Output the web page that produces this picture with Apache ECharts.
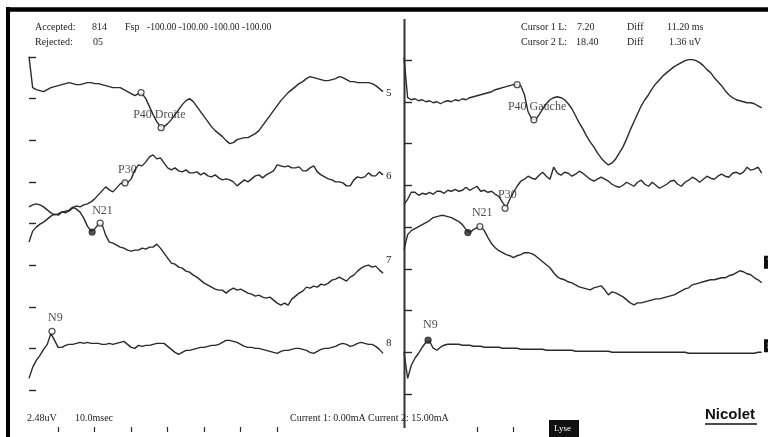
<!DOCTYPE html>
<html>
<head>
<meta charset="utf-8">
<script src="https://cdn.jsdelivr.net/npm/echarts@6/dist/echarts.min.js"></script>
<style>
  html, body { margin: 0; padding: 0; background: #fff; }
  #chart { width: 768px; height: 437px; }
</style>
</head>
<body>
<div id="chart"></div>
<script>
// one sample per ms, amplitudes in counts (41.6 counts = 1 div = 2.48 uV)
const STEP_MS = 1;
const COUNTS_PER_DIV = 41.6;

// left page (Droite), channels 5..8
const droite5 = [42,11,9,8,7,9,11,12,13,14, 15,16,15,14,14,15,16,16,15,15,
  14,13,12,11,11,11,9,7,5,3, 5,5,0,-8,-16,-23,-28,-28,-25,-21,
  -16,-11,-6,-2,0,-3,-8,-13,-18,-23, -28,-32,-35,-38,-42,-45,-44,-41,-40,-39,
  -39,-37,-35,-32,-27,-22,-17,-12,-7,-2, 2,6,9,12,15,17,20,22,21,20,
  19,18,18,19,20,22,21,19,17,17, 16,16,16,16,15,13,10,7];
const droite6 = [-25,-23,-22,-23,-25,-28,-31,-33,-32,-30, -31,-29,-26,-24,-25,-23,-22,-20,-17,-13,
  -9,-5,-8,-10,-6,-2,0,-1,3,12, 17,16,20,25,27,23,24,19,14,12,
  14,11,10,12,9,9,10,7,9,6, 5,7,4,2,3,2,0,-4,-1,2,
  0,3,6,7,4,7,9,11,17,16, 15,16,14,14,15,11,11,14,16,10,
  7,5,3,2,0,0,-1,-4,-4,2, 5,4,5,9,6,6,10,7];
const droite7 = [23,34,38,41,43,46,49,51,50,53, 54,55,58,56,53,47,39,34,36,41,
  41,30,23,22,20,18,17,15,14,15, 15,17,16,18,18,21,17,12,7,2,
  1,-2,-3,-6,-7,-10,-12,-15,-18,-20, -22,-24,-25,-25,-28,-25,-23,-25,-24,-26,
  -28,-29,-31,-30,-32,-33,-32,-35,-38,-40, -38,-40,-34,-31,-28,-26,-22,-23,-21,-22,
  -19,-20,-18,-15,-14,-12,-14,-16,-12,-10, -6,-3,-1,0,-2,-1,-5,-8];
const droite8 = [-30,-19,-12,-7,-1,4,15,8,1,1, 3,4,4,5,6,5,6,5,5,5,
  4,4,5,4,5,6,7,4,1,0, 3,2,3,3,4,5,5,5,2,-1,
  -4,-6,-4,-2,-2,-1,0,1,1,2, 3,3,4,6,8,8,7,6,4,2,
  1,1,0,0,-1,-2,-3,-4,-5,-3, -2,-2,-1,0,0,-1,-2,-4,-5,-3,
  -1,0,0,1,2,4,5,4,2,3, 5,6,5,4,4,2,-1,-5];

// right page (Gauche), channels 5..8
const gauche5 = [44,4,2,3,1,2,0,1,-1,0, -2,0,1,0,2,1,3,2,4,5,
  6,7,8,9,10,12,13,14,15,16, 17,17,16,7,-10,-17,-18,-13,-7,-2,
  2,4,5,4,2,-2,-7,-14,-21,-27, -34,-40,-45,-51,-56,-60,-63,-61,-57,-51,
  -45,-37,-28,-20,-12,-4,2,7,13,18, 22,26,29,32,35,37,39,41,42,42,
  41,39,36,32,29,24,20,16,11,7, 4,2,1,0,-1,-1,-2,-4,-6];
const gauche6 = [-19,-14,-7,-7,-10,-8,-9,-7,-9,-6, -6,-8,-5,-6,-4,-6,-5,-2,-5,-3,
  -1,-6,-5,-7,-6,-9,-11,-17,-22,-14, -7,-1,4,6,9,7,6,10,13,9,
  6,18,12,10,13,12,9,11,14,12, 9,6,4,6,8,6,4,1,-1,-2,
  0,3,1,-1,3,5,1,-1,3,0, -3,-1,1,4,5,1,-1,3,5,8,
  6,3,6,9,7,6,9,11,9,8, 12,13,11,13,18,15,16,18,12];
const gauche7 = [19,34,38,40,42,44,46,48,51,52, 53,53,52,51,49,47,44,39,36,39,
  41,42,38,31,25,21,18,16,14,13, 11,13,14,16,16,15,13,10,7,4,
  1,-4,-8,-10,-11,-13,-14,-16,-18,-19, -20,-21,-19,-18,-17,-21,-26,-23,-24,-26,
  -28,-31,-34,-36,-34,-34,-33,-32,-31,-30, -30,-29,-28,-27,-26,-24,-22,-20,-19,-16,
  -15,-14,-13,-12,-11,-11,-10,-9,-9,-7, -6,-4,-2,-3,-5,-6,-9,-11,-14];
const gauche8 = [0,-26,-13,-6,-1,5,10,11,4,2, 5,7,8,8,8,8,7,7,7,6,
  6,6,5,5,5,5,5,4,4,4, 4,4,3,3,3,3,3,3,3,2,
  2,2,2,2,2,2,2,1,1,1, 1,1,1,1,1,1,1,0,0,0,
  0,0,0,0,0,0,0,0,0,0, 0,0,0,0,0,0,0,0,-1,-1,
  -1,-1,-1,-1,-1,-1,-1,-1,-1,-1, -1,-1,-1,-1,-1,-1,-1,0,0];

const channelNames = ['5', '6', '7', '8'];

// cursor marks [ms, counts] and peak names
const peakMarks = {
  droite5: [[30.7, 6], [36.2, -29]],
  droite6: [[26.3, -1]],
  droite7: [[17.3, 33], [19.5, 42]],
  droite8: [[6.3, 17]],
  gauche5: [[31.0, 17], [35.6, -18]],
  gauche6: [[27.7, -23]],
  gauche7: [[17.5, 36], [20.8, 42]],
  gauche8: [[6.6, 12]]
};
const peakNames = {
  droite5: 'P40 Droite', droite6: 'P30', droite7: 'N21', droite8: 'N9',
  gauche5: 'P40 Gauche', gauche6: 'P30', gauche7: 'N21', gauche8: 'N9'
};

// time ruler ticks along the bottom (ms)
const rulerTicksDroite = [8, 18, 28, 38, 48, 58, 68];
const rulerTicksGauche = [20, 30];

// ---- layout ----
const INK = '#2b2b2b';
const SERIF = '"Liberation Serif", "DejaVu Serif", serif';
const panels = [
  { key: 'droite', left: 29, top: 57, height: 333, tickLen: 7,
    traces: [droite5, droite6, droite7, droite8], ruler: rulerTicksDroite },
  { key: 'gauche', left: 404, top: 60, height: 334, tickLen: 8,
    traces: [gauche5, gauche6, gauche7, gauche8], ruler: rulerTicksGauche }
];
const channelDiv = [7, 5, 3, 1];
const labelOffset = {
  droite5: [-28, -13], droite6: [-7, -13], droite7: [-8, -12], droite8: [-4, -14],
  gauche5: [-26, -13], gauche6: [-7, -13], gauche7: [-8, -14], gauche8: [-5, -15]
};
const filledMarks = { droite7: [true, false], gauche7: [true, false], gauche8: [true] };

const grids = [], xAxes = [], yAxes = [], series = [];

panels.forEach((p, pi) => {
  grids.push({ left: p.left, top: p.top, width: 365, height: p.height, outerBoundsMode: 'none', containLabel: false });
  xAxes.push({
    gridIndex: pi, type: 'value', min: 0, max: 100, position: 'bottom',
    offset: 427 - (p.top + p.height),
    axisLine: { show: false, onZero: false },
    axisTick: { show: true, customValues: p.ruler, length: 5, lineStyle: { color: INK, width: 1.2 } },
    axisLabel: { show: false }, splitLine: { show: false }
  });
  // division ticks
  yAxes.push({
    gridIndex: pi, type: 'value', min: 0, max: 8, interval: 1, position: 'left',
    axisLine: { show: false },
    axisTick: { show: true, inside: true, length: p.tickLen, lineStyle: { color: INK, width: 1.4 } },
    axisLabel: { show: false }, splitLine: { show: false }
  });
  // channel numbers at the right end
  yAxes.push({
    gridIndex: pi, type: 'value', min: 0, max: 8, interval: 1, position: 'right',
    axisLine: { show: false }, axisTick: { show: false }, splitLine: { show: false },
    axisLabel: pi === 0 ? {
      show: true, margin: -8, align: 'left', verticalAlign: 'bottom', color: '#222',
      fontFamily: SERIF, fontSize: 11,
      formatter: v => { const i = channelDiv.indexOf(v); return i >= 0 ? channelNames[i] : ''; }
    } : {
      show: true, margin: -5, align: 'left', verticalAlign: 'bottom',
      fontFamily: SERIF, fontSize: 11,
      formatter: v => (v === 3 ? '{b|7}' : v === 1 ? '{b|8}' : ''),
      rich: { b: { color: '#fff', backgroundColor: '#111', padding: [1, 3, 1, 3], fontFamily: SERIF, fontSize: 11 } }
    }
  });
  p.traces.forEach((trace, ci) => {
    const yi = yAxes.length;
    yAxes.push({
      gridIndex: pi, type: 'value', show: false,
      min: -channelDiv[ci] * COUNTS_PER_DIV, max: (8 - channelDiv[ci]) * COUNTS_PER_DIV
    });
    const key = p.key + channelNames[ci];
    series.push({
      type: 'line', xAxisIndex: pi, yAxisIndex: yi, clip: false, silent: true,
      showSymbol: false, smooth: false,
      lineStyle: { color: INK, width: 1.4 },
      data: trace.map((v, i) => [i * STEP_MS, v])
    });
    const marks = peakMarks[key];
    const fills = filledMarks[key] || [];
    const off = labelOffset[key];
    series.push({
      type: 'scatter', xAxisIndex: pi, yAxisIndex: yi, clip: false, silent: true, z: 3,
      symbol: 'circle', symbolSize: 6,
      itemStyle: { color: '#fff', borderColor: INK, borderWidth: 1.3 },
      data: marks.map((m, mi) => {
        const item = { value: m };
        if (fills[mi]) item.itemStyle = { color: INK };
        if (mi === marks.length - 1) {
          item.label = {
            show: true, formatter: peakNames[key], position: 'inside',
            align: 'left', verticalAlign: 'middle', offset: off,
            color: '#222', fontFamily: SERIF, fontSize: 12
          };
        }
        return item;
      })
    });
  });
});

function txt(text, x, y, size, fill) {
  return {
    type: 'text', x: x, y: y, silent: true,
    style: { text: text, fill: fill || '#222', font: (size || 10) + 'px ' + SERIF, verticalAlign: 'middle', align: 'left' }
  };
}

const graphic = [
  // page frame and divider
  { type: 'line', silent: true, shape: { x1: 8, y1: 7, x2: 8, y2: 437 }, style: { stroke: '#000', lineWidth: 4 } },
  { type: 'line', silent: true, shape: { x1: 6, y1: 9.5, x2: 768, y2: 9.5 }, style: { stroke: '#000', lineWidth: 4.5 } },
  { type: 'line', silent: true, shape: { x1: 404.5, y1: 19, x2: 404.5, y2: 428 }, style: { stroke: '#333', lineWidth: 2 } },
  // header
  txt('Accepted:', 35, 27), txt('814', 92, 27), txt('Fsp', 125, 27),
  txt('-100.00 -100.00 -100.00 -100.00', 147, 27, 9.5),
  txt('Rejected:', 35, 42), txt('05', 93, 42),
  txt('Cursor 1 L:', 521, 27), txt('7.20', 577, 27), txt('Diff', 627, 27), txt('11.20 ms', 667, 27),
  txt('Cursor 2 L:', 521, 42), txt('18.40', 576, 42), txt('Diff', 627, 42), txt('1.36 uV', 669, 42),
  // footer
  txt('2.48uV', 27, 418), txt('10.0msec', 75, 418),
  txt('Current 1: 0.00mA', 290, 418), txt('Current 2: 15.00mA', 368, 418),
  { type: 'rect', silent: true, shape: { x: 549, y: 420, width: 30, height: 17 }, style: { fill: '#111' } },
  txt('Lyse', 554, 429, 9, '#fff'),
  { type: 'text', x: 705, y: 415, silent: true,
    style: { text: 'Nicolet', fill: '#111', font: 'bold 15px "Liberation Sans", Arial, sans-serif', verticalAlign: 'middle', align: 'left' } },
  { type: 'line', silent: true, shape: { x1: 705, y1: 424, x2: 757, y2: 424 }, style: { stroke: '#111', lineWidth: 1.5 } }
];

const chart = echarts.init(document.getElementById('chart'));
chart.setOption({
  animation: false,
  backgroundColor: '#fff',
  grid: grids,
  xAxis: xAxes,
  yAxis: yAxes,
  series: series,
  graphic: graphic
});
</script>
</body>
</html>
